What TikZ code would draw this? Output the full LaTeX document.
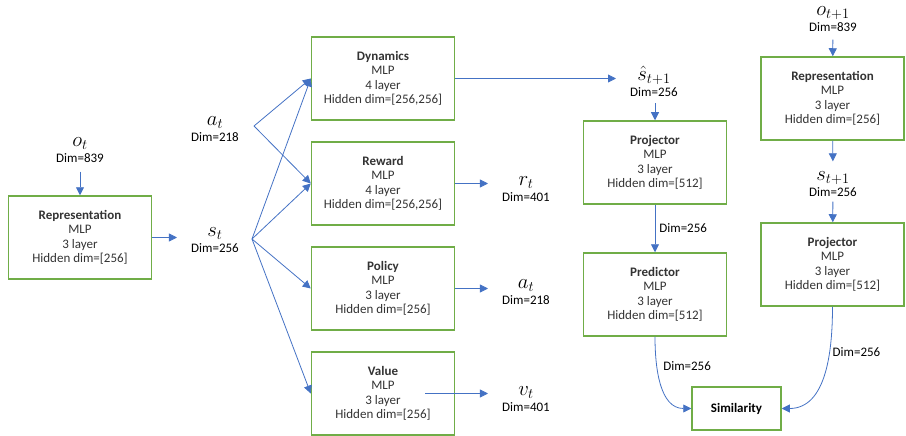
\documentclass[tikz,border=0pt]{standalone}
\usepackage{fontspec}
\setmainfont{Carlito}
\usetikzlibrary{arrows.meta,calc}
\definecolor{boxgreen}{HTML}{70AD47}
\definecolor{arrowblue}{HTML}{4472C4}
\newcommand\mlpbox[3]{\textbf{#1}\\MLP\\#2 layer\\Hidden dim=[#3]}
\newcommand\varlbl[2]{{\fontsize{22}{16}\selectfont$#1$}\\#2}

\begin{document}
\begin{tikzpicture}[x=1pt,y=-1pt,
            net/.style={draw=boxgreen,line width=1.5pt,text=black!80,align=center,minimum width=143pt,minimum height=83pt,inner sep=0pt,font=\fontsize{13}{14.5}\selectfont},
            var/.style={align=center,inner sep=0pt,font=\fontsize{13}{16}\selectfont},
            lbl/.style={inner sep=0pt,font=\fontsize{13}{15}\selectfont},
            arr/.style={draw=arrowblue,line width=0.8pt,-{Triangle[length=8pt,width=8pt]}}]
            \useasboundingbox (0,0) rectangle (906,436);
            \node[net] (rep) at (80,237.5) {\mlpbox{Representation}{3}{256}};
            \node[net] (dyn) at (383,78.5) {\mlpbox{Dynamics}{4}{256,256}};
            \node[net] (rew) at (383,183.5) {\mlpbox{Reward}{4}{256,256}};
            \node[net] (pol) at (383,288.5) {\mlpbox{Policy}{3}{256}};
            \node[net] (val) at (383,393.5) {\mlpbox{Value}{3}{256}};
            \node[net] (proj) at (655,162.5) {\mlpbox{Projector}{3}{512}};
            \node[net] (pred) at (655,294.5) {\mlpbox{Predictor}{3}{512}};
            \node[net] (repn) at (832.5,98.5) {\mlpbox{Representation}{3}{256}};
            \node[net] (projn) at (832.5,264.5) {\mlpbox{Projector}{3}{512}};
            \node[net,minimum width=89pt,minimum height=43pt,text=black] (sim) at (736.5,408.5) {\textbf{Similarity}};
            \node[var] (ot) at (80,150) {\varlbl{o_t}{Dim=839}};
            \node[var] (at) at (215,129) {\varlbl{a_t}{Dim=218}};
            \node[var] (st) at (215,240) {\varlbl{s_t}{Dim=256}};
            \node[var] (rt) at (526,189) {\varlbl{r_t}{Dim=401}};
            \node[var] (an) at (526,292) {\varlbl{a_t}{Dim=218}};
            \node[var] (vt) at (526,399) {\varlbl{v_t}{Dim=401}};
            \node[var] (shat) at (654,81) {\varlbl{\hat{s}_{t+1}}{Dim=256}};
            \node[var] (otn) at (833,19) {\varlbl{o_{t+1}}{Dim=839}};
            \node[var] (stn) at (833,184) {\varlbl{s_{t+1}}{Dim=256}};
            \coordinate (aj) at (254,126);
            \coordinate (sj) at (252,239);
            \draw[arr,shorten <=9pt] (ot) -- (rep);
            \draw[arr,shorten >=14pt] (rep.east) -- (rep.east -| st.west);
            \draw[arr] (aj) -- (dyn.west);
            \draw[arr] (aj) -- (rew.west);
            \foreach \n in {dyn,rew,pol,val}
                \draw[arr] (sj) -- (\n.west);
            \draw[arr,shorten >=14pt] (rew.east) -- (rew.east -| rt.west);
            \draw[arr,shorten >=14pt] (pol.east) -- (pol.east -| an.west);
            \draw[arr,shorten >=14pt] ([xshift=-30pt]val.east) -- (val.east -| vt.west);
            \draw[arr,shorten >=14pt] (dyn.east) -- (dyn.east -| shat.west);
            \draw[arr,shorten <=7pt] (proj.north |- shat.south) -- (proj.north);
            \draw[arr] (proj) -- node[lbl,right=4pt] {Dim=256} (pred);
            \draw[arr] (pred.south) to[out=-90,in=180] node[lbl,pos=0.3,right=6pt] {Dim=256} (sim.west);
            \draw[arr] (projn.south) to[out=-90,in=0] node[lbl,pos=0.33,right=3pt] {Dim=256} (sim.east);
            \draw[arr,shorten <=8pt] (otn) -- (repn);
            \draw[arr,shorten >=10pt] (repn) -- (stn);
            \draw[arr,shorten <=5pt] (stn) -- (projn);
\end{tikzpicture}
\end{document}
